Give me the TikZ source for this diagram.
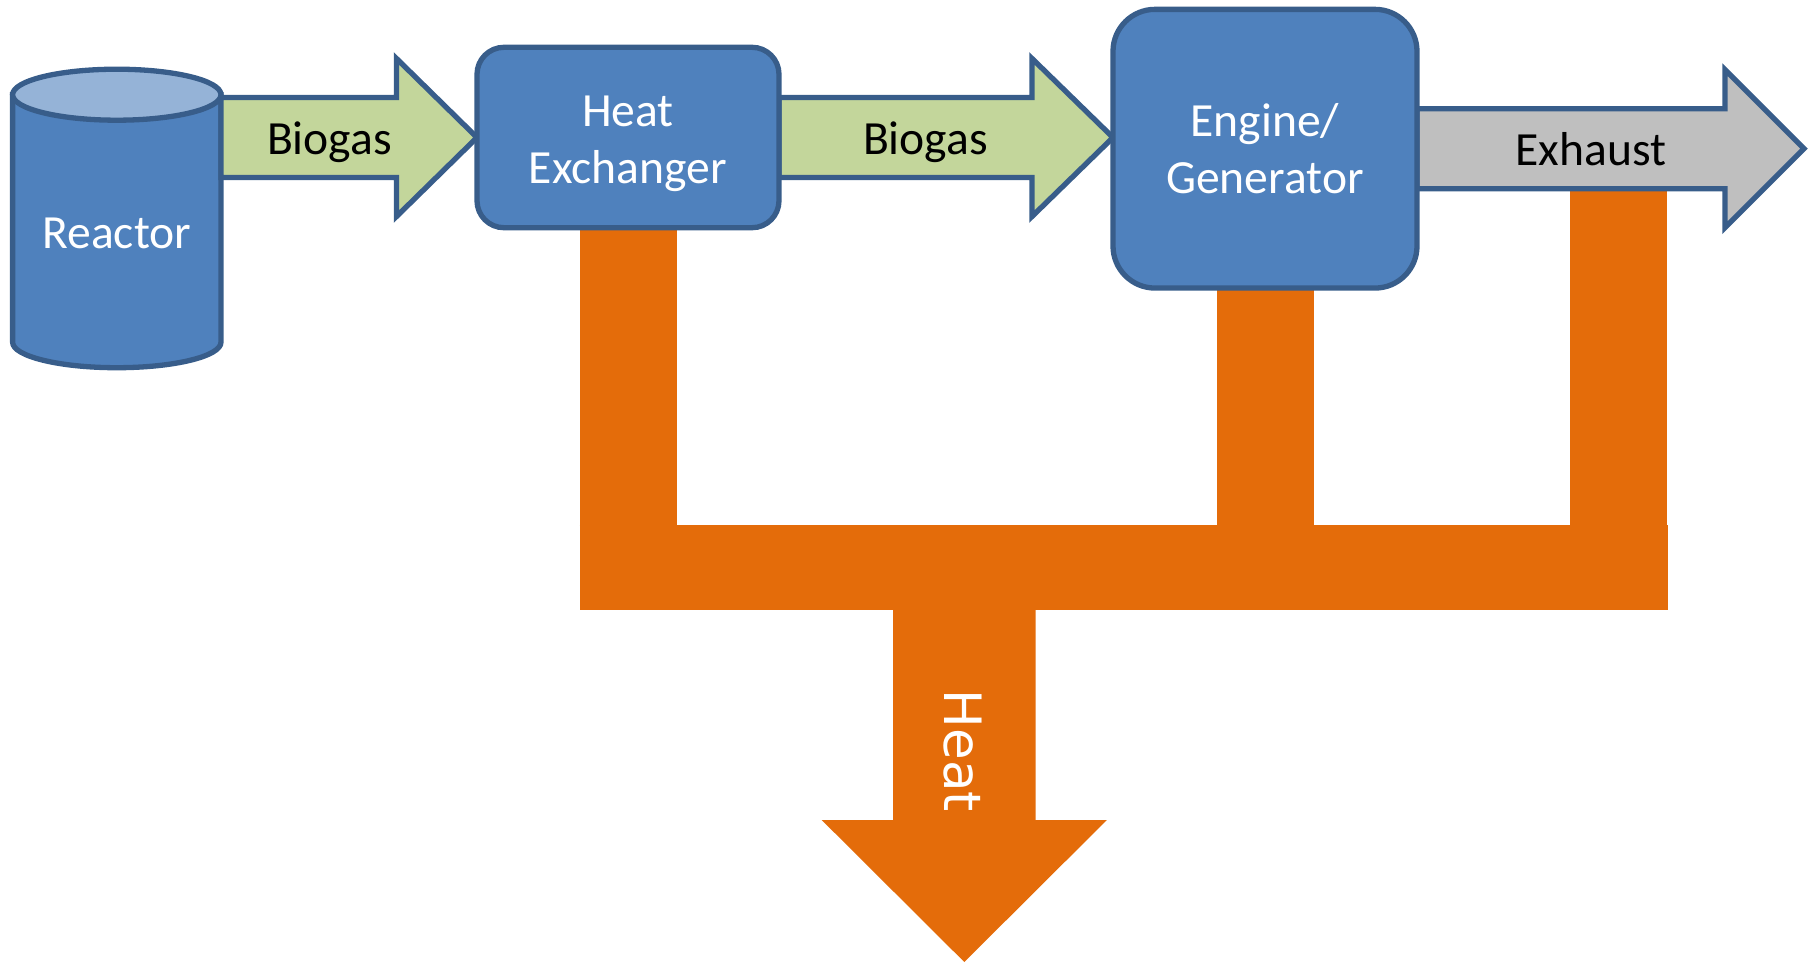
\documentclass[tikz,border=0pt]{standalone}
\usepackage{fontspec}
\setmainfont{Carlito}
\newfontfamily\heatfont{DejaVu Sans}
\usetikzlibrary{calc}
\pgfdeclarelayer{bgl}
\pgfdeclarelayer{midl}
\pgfsetlayers{bgl,midl,main}
\definecolor{boxfill}{HTML}{4F81BD}
\definecolor{boxline}{HTML}{385D8A}
\definecolor{cyltop}{HTML}{95B3D7}
\definecolor{gasfill}{HTML}{C3D69B}
\definecolor{exhfill}{HTML}{BFBFBF}
\definecolor{heatcol}{HTML}{E46C0A}
\tikzset{
  x=1pt,y=-1pt,
  txt/.style={font=\fontsize{47.6}{57.5}\selectfont,align=center,inner sep=0,outer sep=0},
  blockbox/.style={txt,draw=boxline,fill=boxfill,line width=5.3pt,text=white,rectangle},
  shapeline/.style={draw=boxline,line width=5.3pt,line join=miter},
  gasarrow/.style={shapeline,fill=gasfill},
  exharrow/.style={shapeline,fill=exhfill},
  heatleg/.style={draw=heatcol,line width=97pt},
  heatbus/.style={draw=heatcol,line width=85.3pt},
  flowlabel/.style={txt,anchor=base,text=black},
}
% #1 style, #2 start, #3 tip, #4 head length, #5 shaft half height, #6 head half height
\newcommand{\blockarrow}[6]{%
  \draw[#1] (#3) -- ++(-#4,-#6) -- ++(0,#6-#5) -- ($(#2)+(0,-#5)$)
    -- ($(#2)+(0,#5)$) -- ($(#3)+(-#4,#5)$) -- ++(0,#6-#5) -- cycle;}
\begin{document}
\begin{tikzpicture}
\useasboundingbox (0,0) rectangle (1813,962);
% process blocks
\node[txt,text=white,minimum width=208.4pt,minimum height=273pt] (reactor) at (116.8,231.2) {\rule{0pt}{35pt}Reactor};
\node[blockbox,rounded corners=27pt,minimum width=302pt,minimum height=180.4pt] (hx) at (628,137.5) {\rule{0pt}{43pt}Heat\\Exchanger};
\node[blockbox,rounded corners=42pt,minimum width=304pt,minimum height=278.7pt] (engine) at (1265,148.7) {Engine/\\Generator};
% cylinder body and lid
\begin{pgfonlayer}{midl}
\draw[shapeline,fill=boxfill] (reactor.north west) -- ($(reactor.south west)+(0,-25.5)$)
  arc[start angle=180,end angle=0,x radius=104.2,y radius=25.5] -- (reactor.north east) -- cycle;
\draw[shapeline,fill=cyltop] (reactor.north) ellipse[x radius=104.2,y radius=25.5];
\end{pgfonlayer}
% flow anchors
\coordinate (gas1start) at (reactor.east |- hx.west);
\coordinate (exhstart) at (engine.east);
\coordinate (exhtip) at (1804,148.7);
\coordinate (exhdrop) at (1618.7,189);
\coordinate (busL) at (579.5,567.3);
\coordinate (busR) at (1667.5,567.3);
\coordinate (heatstart) at (964.3,567.3);
\coordinate (heattip) at (964.3,962);
% heat streams
\begin{pgfonlayer}{bgl}
\draw[heatleg] (hx.south) -- (hx.south |- busL);
\draw[heatleg] (engine.south) -- (engine.south |- busL);
\draw[heatleg] (exhdrop) -- (exhdrop |- busL);
\draw[heatbus] (busL) -- (busR);
\fill[heatcol] (heattip) -- ++(142.6,-142) -- ++(-71.4,0) -- ($(heatstart)+(71.2,0)$)
  -- ($(heatstart)+(-71.2,0)$) -- ($(heattip)+(-71.2,-142)$) -- ++(-71.4,0) -- cycle;
\end{pgfonlayer}
% gas streams
\begin{pgfonlayer}{midl}
\blockarrow{gasarrow}{gas1start}{hx.west}{80.5}{40}{79}
\blockarrow{gasarrow}{hx.east}{engine.west |- hx.east}{81}{40}{79}
\blockarrow{exharrow}{exhstart}{exhtip}{79}{40}{79}
\end{pgfonlayer}
% labels
\node[flowlabel] (biogas1) at (329.5,154) {Biogas};
\node[flowlabel] (biogas2) at (925.5,154) {Biogas};
\node[flowlabel] (exhaust) at (1591,165) {Exhaust};
\node[inner sep=0,outer sep=0,text=white,rotate=-90,font=\heatfont\fontsize{51.5}{60}\selectfont] (heat) at (963,751) {Heat};
\end{tikzpicture}
\end{document}
